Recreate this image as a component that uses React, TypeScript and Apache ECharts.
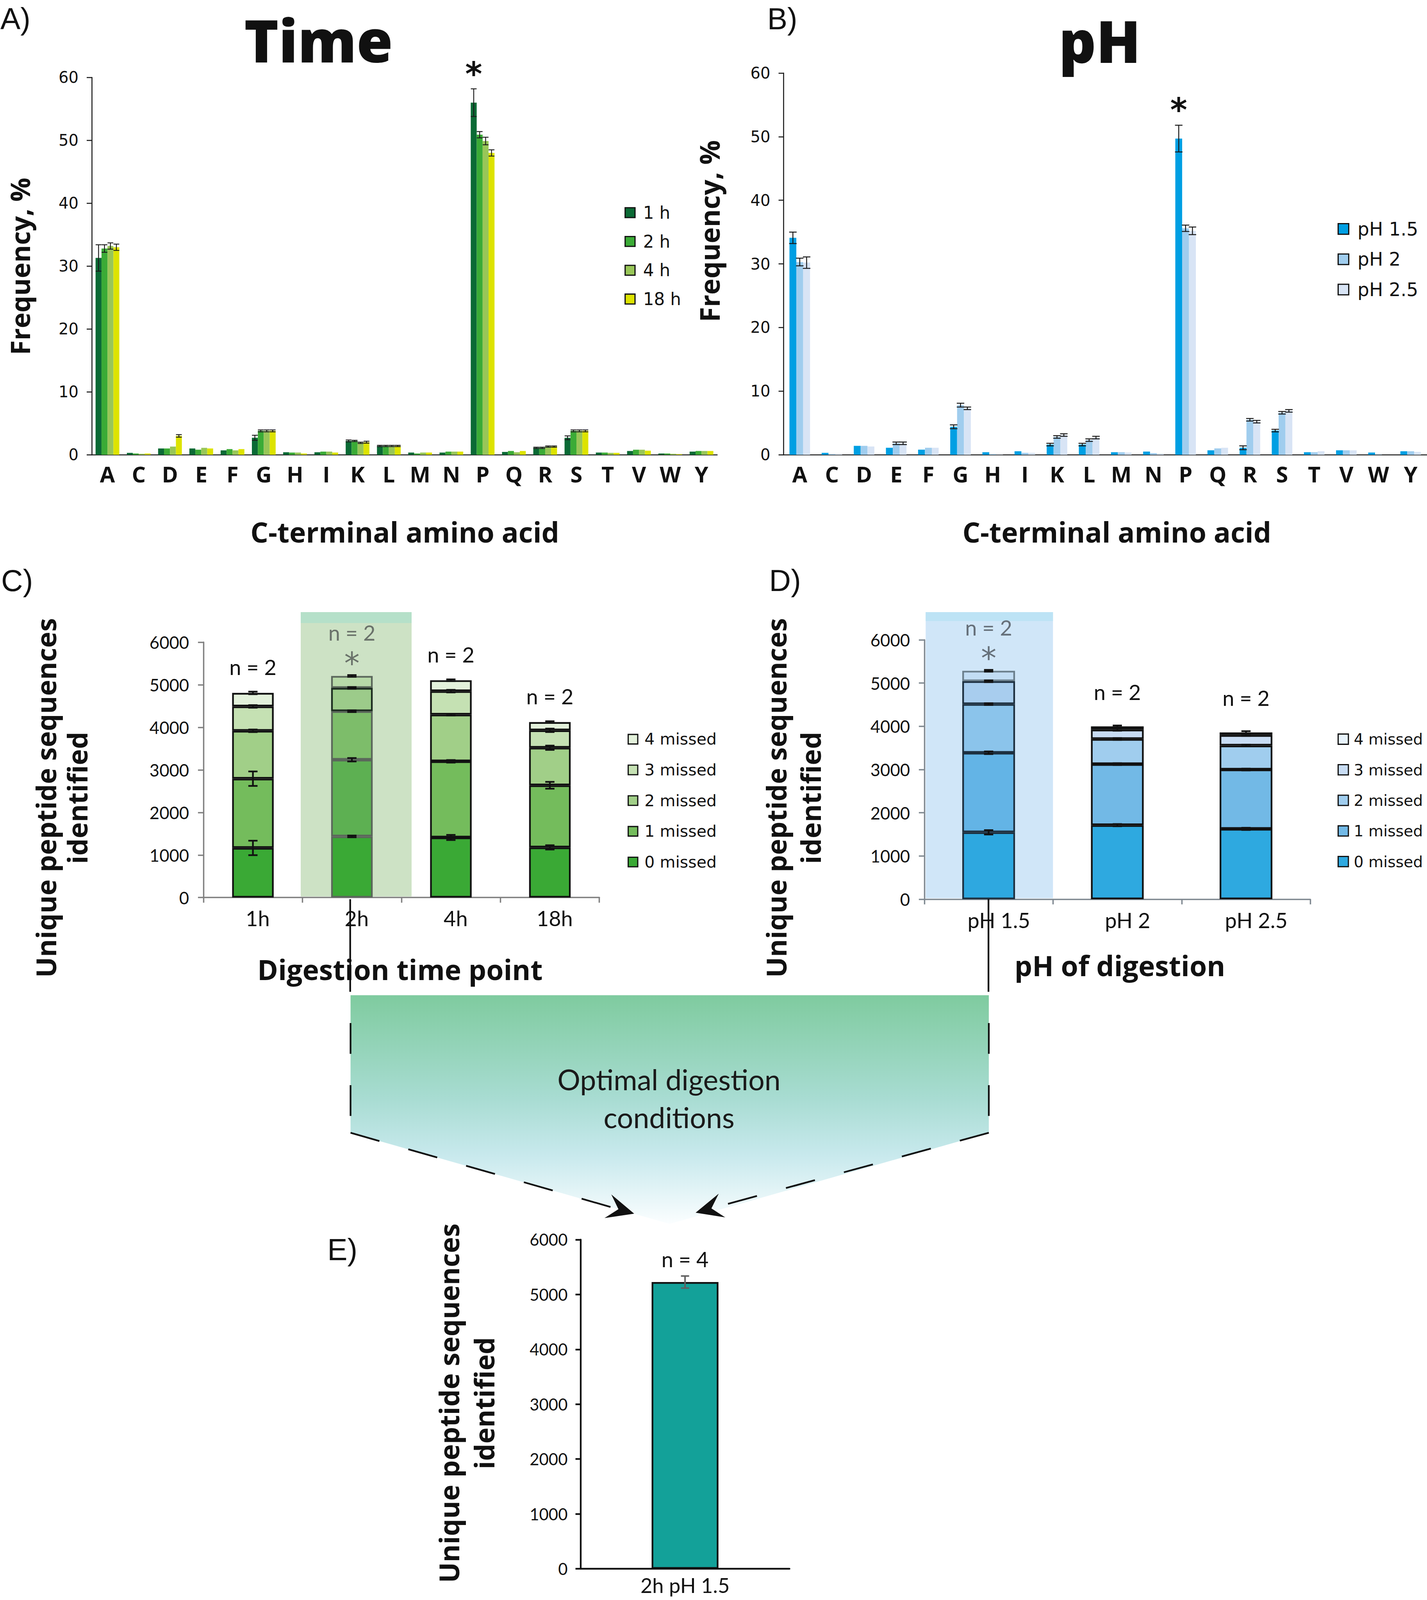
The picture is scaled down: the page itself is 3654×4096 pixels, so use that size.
import React, { useEffect, useRef } from "react";
import * as echarts from "echarts";

const W = 3654;
const H = 4096;
const S = 0.874;
const p = (v: number) => v * S;

// ---------------- DATA ----------------
const AMINO = ["A", "C", "D", "E", "F", "G", "H", "I", "K", "L", "M", "N", "P", "Q", "R", "S", "T", "V", "W", "Y"];
const STAR_AMINO = "P";

const TIME_SERIES = ["1 h", "2 h", "4 h", "18 h"];
const TIME_1H = [31.3, 0.3, 1.0, 1.0, 0.7, 2.7, 0.4, 0.4, 2.2, 1.4, 0.35, 0.35, 56.0, 0.45, 1.1, 2.7, 0.35, 0.6, 0.2, 0.5];
const TIME_2H = [32.8, 0.2, 1.0, 0.8, 0.9, 3.8, 0.35, 0.5, 2.2, 1.4, 0.2, 0.5, 50.9, 0.6, 1.1, 3.8, 0.35, 0.8, 0.2, 0.6];
const TIME_4H = [33.2, 0.15, 1.3, 1.1, 0.7, 3.8, 0.35, 0.5, 1.9, 1.4, 0.35, 0.5, 49.9, 0.4, 1.3, 3.8, 0.3, 0.8, 0.15, 0.6];
const TIME_18H = [33.0, 0.2, 3.0, 1.0, 0.9, 3.8, 0.2, 0.35, 2.0, 1.4, 0.35, 0.5, 48.0, 0.6, 1.3, 3.8, 0.3, 0.65, 0.1, 0.6];
const TIME_1H_ERR = [2.1, 0, 0, 0, 0, 0.4, 0, 0, 0.15, 0.1, 0, 0, 2.2, 0, 0.1, 0.3, 0, 0, 0, 0];
const TIME_2H_ERR = [0.6, 0, 0, 0, 0, 0.15, 0, 0, 0.1, 0.1, 0, 0, 0.5, 0, 0.1, 0.15, 0, 0, 0, 0];
const TIME_4H_ERR = [0.5, 0, 0, 0, 0, 0.15, 0, 0, 0.1, 0.1, 0, 0, 0.6, 0, 0.1, 0.15, 0, 0, 0, 0];
const TIME_18H_ERR = [0.5, 0, 0.2, 0, 0, 0.15, 0, 0, 0.15, 0.1, 0, 0, 0.5, 0, 0.1, 0.15, 0, 0, 0, 0];

const PH_SERIES = ["pH 1.5", "pH 2", "pH 2.5"];
const PH_15 = [34.1, 0.3, 1.4, 1.1, 0.8, 4.4, 0.4, 0.55, 1.6, 1.6, 0.4, 0.5, 49.7, 0.7, 1.1, 3.8, 0.4, 0.7, 0.35, 0.55];
const PH_2 = [30.3, 0.1, 1.4, 1.8, 1.1, 7.8, 0.1, 0.3, 2.8, 2.3, 0.4, 0.25, 35.6, 1.0, 5.5, 6.6, 0.4, 0.7, 0.05, 0.55];
const PH_25 = [30.2, 0.1, 1.3, 1.8, 1.1, 7.3, 0.05, 0.3, 3.1, 2.7, 0.35, 0.2, 35.2, 1.1, 5.2, 6.9, 0.55, 0.7, 0, 0.45];
const PH_15_ERR = [0.9, 0, 0, 0, 0, 0.3, 0, 0, 0.2, 0.2, 0, 0, 2.1, 0, 0.3, 0.2, 0, 0, 0, 0];
const PH_2_ERR = [0.6, 0, 0, 0.2, 0, 0.3, 0, 0, 0.2, 0.2, 0, 0, 0.5, 0, 0.2, 0.2, 0, 0, 0, 0];
const PH_25_ERR = [0.9, 0, 0, 0.2, 0, 0.2, 0, 0, 0.2, 0.2, 0, 0, 0.6, 0, 0.2, 0.2, 0, 0, 0, 0];

const MISSED = ["0 missed", "1 missed", "2 missed", "3 missed", "4 missed"];

const TIMEPOINTS = ["1h", "2h", "4h", "18h"];
const C_MISSED0 = [1166, 1437, 1412, 1179];
const C_MISSED1 = [1627, 1801, 1789, 1459];
const C_MISSED2 = [1125, 1140, 1097, 882];
const C_MISSED3 = [573, 548, 552, 409];
const C_MISSED4 = [317, 281, 256, 193];
const C_ERR0 = [170, 20, 60, 50];
const C_ERR1 = [170, 40, 30, 80];
const C_ERR2 = [30, 20, 20, 50];
const C_ERR3 = [30, 20, 30, 40];
const C_ERR4 = [30, 20, 20, 20];
const C_N = ["n = 2", "n = 2", "n = 2", "n = 2"];
const C_STAR = 1;

const PH_POINTS = ["pH 1.5", "pH 2", "pH 2.5"];
const D_MISSED0 = [1548, 1714, 1628];
const D_MISSED1 = [1840, 1412, 1372];
const D_MISSED2 = [1125, 580, 555];
const D_MISSED3 = [529, 217, 242];
const D_MISSED4 = [242, 75, 60];
const D_ERR0 = [50, 25, 25];
const D_ERR1 = [30, 20, 20];
const D_ERR2 = [20, 20, 20];
const D_ERR3 = [20, 25, 20];
const D_ERR4 = [20, 20, 30];
const D_N = ["n = 2", "n = 2", "n = 2"];
const D_STAR = 0;

const E_CATEGORY = ["2h pH 1.5"];
const E_VALUE = [5227];
const E_ERR = [110];
const E_N = ["n = 4"];

const Y_TICKS_FREQ = { min: 0, max: 60, interval: 10 };
const Y_TICKS_PEP = { min: 0, max: 6000, interval: 1000 };

// ---------------- STYLE ----------------
const TIME_COLORS = ["#0b6a35", "#3bab36", "#98c658", "#dde300"];
const PH_COLORS = ["#009fe3", "#a0cdee", "#d8e4f5"];
const C_COLORS = ["#3aa935", "#74bc5c", "#a1cf88", "#c5e1b3", "#e3f1db"];
const C_HL_COLORS = ["#3aa935", "#5db052", "#7dbd6a", "#9ccb8a", "#b7d9a8"];
const C_HL_BORDERS = ["#5b675b", "#5b675b", "#5b675b", "#1c2c20", "#5b675b"];
const D_COLORS = ["#2ea9e0", "#72b9e6", "#a0cdee", "#c8dcf3", "#e8f3fc"];
const D_HL_COLORS = ["#2ea8e0", "#63b4e6", "#8bc4eb", "#a8cdee", "#c2ddf4"];
const D_HL_BORDERS = ["#1d3040", "#1d3040", "#1d3040", "#1d3040", "#6b7f8c"];
const INK = "#111111";
const AXIS_GREY = "#808080";

const plain = (v: number) => String(v);

const makeErr = (n: number, groupFrac: number, cap: number, color: string, lw: number) =>
  (params: any, api: any) => {
    const ci = api.value(0);
    const v = api.value(1);
    const e = api.value(2);
    const slot = api.value(3);
    if (!e) return null;
    const band = api.size([1, 0])[0];
    const gw = band * groupFrac;
    const bw = gw / n;
    const cx = n === 1 ? api.coord([ci, v])[0] : api.coord([ci, v])[0] - gw / 2 + bw * (slot + 0.5);
    const yt = api.coord([ci, v + e])[1];
    const yb = api.coord([ci, v - e])[1];
    const st = { stroke: color, lineWidth: lw };
    return {
      type: "group",
      children: [
        { type: "line", shape: { x1: cx, y1: yt, x2: cx, y2: yb }, style: st },
        { type: "line", shape: { x1: cx - cap / 2, y1: yt, x2: cx + cap / 2, y2: yt }, style: st },
        { type: "line", shape: { x1: cx - cap / 2, y1: yb, x2: cx + cap / 2, y2: yb }, style: st },
      ],
    };
  };

const txt = (x: number, y: number, text: string, size: number, o: any = {}) => ({
  type: "text",
  x: p(x),
  y: p(y),
  rotation: o.rot || 0,
  z: 50,
  style: {
    text,
    fontSize: p(size),
    fontFamily: o.family || "Open Sans",
    fontWeight: o.weight || "normal",
    fill: o.color || INK,
    align: "center",
    verticalAlign: "middle",
    lineHeight: o.lh ? p(o.lh) : undefined,
  },
});

function arrowHead(tx: number, ty: number, fx: number, fy: number) {
  const dx = tx - fx, dy = ty - fy;
  const L = Math.hypot(dx, dy);
  const ux = dx / L, uy = dy / L;
  const nx = -uy, ny = ux;
  const len = 80, hw = 36, notch = 48;
  const pts = [
    [tx, ty],
    [tx - len * ux + hw * nx, ty - len * uy + hw * ny],
    [tx - notch * ux, ty - notch * uy],
    [tx - len * ux - hw * nx, ty - len * uy - hw * ny],
  ];
  return { pts: pts.map((q) => [p(q[0]), p(q[1])]), base: [tx - notch * ux, ty - notch * uy] };
}

function buildOption() {
  const series: any[] = [];

  // ---- Panel A ----
  const timeData = [TIME_1H, TIME_2H, TIME_4H, TIME_18H];
  const timeErr = [TIME_1H_ERR, TIME_2H_ERR, TIME_4H_ERR, TIME_18H_ERR];
  const starLabel = {
    show: true, position: "top", distance: p(36), formatter: "*",
    fontSize: p(95), fontFamily: "DejaVu Sans", fontWeight: "bold", color: INK,
  };
  timeData.forEach((arr, si) =>
    series.push({
      type: "bar", name: TIME_SERIES[si], xAxisIndex: 0, yAxisIndex: 0,
      barGap: "0%", barCategoryGap: "24%", itemStyle: { color: TIME_COLORS[si] },
      data: arr.map((v, i) => (si === 0 && AMINO[i] === STAR_AMINO ? { value: v, label: starLabel } : v)),
    })
  );
  const errA: number[][] = [];
  timeData.forEach((arr, si) => arr.forEach((v, i) => { if (timeErr[si][i] > 0) errA.push([i, v, timeErr[si][i], si]); }));
  series.push({ type: "custom", xAxisIndex: 0, yAxisIndex: 0, z: 5, silent: true, encode: { x: 0, y: 1 },
    data: errA, renderItem: makeErr(4, 0.76, p(17), "#1a1a1a", p(2.6)) });

  // ---- Panel B ----
  const phData = [PH_15, PH_2, PH_25];
  const phErr = [PH_15_ERR, PH_2_ERR, PH_25_ERR];
  phData.forEach((arr, si) =>
    series.push({
      type: "bar", name: PH_SERIES[si], xAxisIndex: 1, yAxisIndex: 1,
      barGap: "0%", barCategoryGap: "36%", itemStyle: { color: PH_COLORS[si] },
      data: arr.map((v, i) => (si === 0 && AMINO[i] === STAR_AMINO ? { value: v, label: starLabel } : v)),
    })
  );
  const errB: number[][] = [];
  phData.forEach((arr, si) => arr.forEach((v, i) => { if (phErr[si][i] > 0) errB.push([i, v, phErr[si][i], si]); }));
  series.push({ type: "custom", xAxisIndex: 1, yAxisIndex: 1, z: 5, silent: true, encode: { x: 0, y: 1 },
    data: errB, renderItem: makeErr(3, 0.64, p(22), "#1a1a1a", p(2.8)) });

  // ---- Panels C & D (stacked) ----
  const nLabel = (t: string, d: number) => ({
    show: true, position: "top", distance: p(d), formatter: t, fontFamily: "Lato", fontSize: p(62), color: INK,
  });
  const hlLabel = (t: string, c: string) => ({
    show: true, position: "top", distance: p(2), formatter: `{n|${t}}\n{s|*}`,
    rich: {
      n: { fontFamily: "Lato", fontSize: p(62), lineHeight: p(110), color: c },
      s: { fontFamily: "DejaVu Sans", fontSize: p(90), lineHeight: p(70), color: c },
    },
  });

  const stacked = (
    segs: number[][], errs: number[][], cats: string[], star: number, nTexts: string[],
    colors: string[], hlColors: string[], hlBorders: string[], axis: number, stack: string,
    barWidth: string, hlText: string, nDist: number
  ) => {
    MISSED.forEach((name, k) =>
      series.push({
        type: "bar", name, stack, xAxisIndex: axis, yAxisIndex: axis, barWidth, z: 2,
        itemStyle: { color: colors[k], borderColor: INK, borderWidth: p(5) },
        data: segs[k].map((v, i) => {
          const item: any = { value: v };
          if (i === star) item.itemStyle = { color: hlColors[k], borderColor: hlBorders[k] };
          if (k === MISSED.length - 1) item.label = i === star ? hlLabel(nTexts[i], hlText) : nLabel(nTexts[i], nDist);
          return item;
        }),
      })
    );
    const ed: number[][] = [];
    cats.forEach((_, i) => {
      let cum = 0;
      segs.forEach((seg, k) => { cum += seg[i]; ed.push([i, cum, errs[k][i], 0]); });
    });
    series.push({ type: "custom", xAxisIndex: axis, yAxisIndex: axis, z: 5, silent: true, encode: { x: 0, y: 1 },
      data: ed, renderItem: makeErr(1, 1, p(27), "#111", p(5)) });
  };

  stacked([C_MISSED0, C_MISSED1, C_MISSED2, C_MISSED3, C_MISSED4], [C_ERR0, C_ERR1, C_ERR2, C_ERR3, C_ERR4],
    TIMEPOINTS, C_STAR, C_N, C_COLORS, C_HL_COLORS, C_HL_BORDERS, 2, "C", "42%", "#6a726a", 45);
  stacked([D_MISSED0, D_MISSED1, D_MISSED2, D_MISSED3, D_MISSED4], [D_ERR0, D_ERR1, D_ERR2, D_ERR3, D_ERR4],
    PH_POINTS, D_STAR, D_N, D_COLORS, D_HL_COLORS, D_HL_BORDERS, 3, "D", "41%", "#66707a", 70);

  // highlight columns
  series.push({
    type: "custom", xAxisIndex: 2, yAxisIndex: 2, z: 1, silent: true, encode: { x: 0, y: 1 }, data: [[C_STAR, 0]],
    renderItem: (params: any, api: any) => {
      const band = api.size([1, 0])[0];
      const base = api.coord([api.value(0), 0]);
      const x0 = base[0] - band * 0.517, x1 = base[0] + band * 0.603;
      const yTop = base[1] - p(836), yBot = base[1] - p(3);
      return { type: "group", children: [
        { type: "rect", shape: { x: x0, y: yTop, width: x1 - x0, height: yBot - yTop }, style: { fill: "#cde2c5" } },
        { type: "rect", shape: { x: x0, y: yTop, width: x1 - x0, height: p(32) }, style: { fill: "#b5e0c9" } },
      ] };
    },
  });
  series.push({
    type: "custom", xAxisIndex: 3, yAxisIndex: 3, z: 1, silent: true, encode: { x: 0, y: 1 }, data: [[D_STAR, 0]],
    renderItem: (params: any, api: any) => {
      const band = api.size([1, 0])[0];
      const base = api.coord([api.value(0), 0]);
      const x0 = base[0] - band / 2 + p(4), x1 = base[0] + band / 2;
      const yTop = base[1] - p(841), yBot = base[1] - p(3);
      return { type: "group", children: [
        { type: "rect", shape: { x: x0, y: yTop, width: x1 - x0, height: yBot - yTop }, style: { fill: "#d0e6f8" } },
        { type: "rect", shape: { x: x0, y: yTop, width: x1 - x0, height: p(26) }, style: { fill: "#bde3f5" } },
      ] };
    },
  });

  // ---- Panel E ----
  series.push({
    type: "bar", name: "E", xAxisIndex: 4, yAxisIndex: 4, barWidth: "32%",
    itemStyle: { color: "#13a199", borderColor: INK, borderWidth: p(5) },
    data: E_VALUE.map((v, i) => ({ value: v, label: nLabel(E_N[i], 36) })),
  });
  series.push({ type: "custom", xAxisIndex: 4, yAxisIndex: 4, z: 5, silent: true, encode: { x: 0, y: 1 },
    data: E_VALUE.map((v, i) => [i, v, E_ERR[i], 0]), renderItem: makeErr(1, 1, p(24), "#606060", p(4.5)) });

  // ---- Axes ----
  const freqX = (gi: number) => ({
    gridIndex: gi, type: "category", data: AMINO,
    axisLine: { lineStyle: { color: "#1a1a1a", width: p(3) } }, axisTick: { show: false },
    axisLabel: { interval: 0, fontFamily: "Open Sans", fontWeight: "bold", fontSize: p(64), color: INK, margin: p(24) },
  });
  const freqY = (gi: number) => ({
    gridIndex: gi, type: "value", ...Y_TICKS_FREQ,
    axisLine: { show: true, lineStyle: { color: "#1a1a1a", width: p(3) } },
    axisTick: { show: true, length: p(15), lineStyle: { color: "#1a1a1a", width: p(3) } },
    splitLine: { show: false },
    axisLabel: { fontFamily: "DejaVu Sans", fontSize: p(46), color: INK, margin: p(39), formatter: plain },
  });
  const pepX = (gi: number, data: string[], color: string, padL: number) => ({
    gridIndex: gi, type: "category", data,
    axisLine: { lineStyle: { color, width: p(4) } },
    axisTick: { show: true, length: p(15), lineStyle: { color, width: p(4) } },
    axisLabel: { interval: 0, fontFamily: "Lato", fontSize: p(62), color: INK, margin: p(30), padding: [0, 0, 0, p(padL)] },
  });
  const pepY = (gi: number, color: string, margin: number) => ({
    gridIndex: gi, type: "value", ...Y_TICKS_PEP,
    axisLine: { show: true, lineStyle: { color, width: p(4) } },
    axisTick: { show: true, length: p(16), lineStyle: { color, width: p(4) } },
    splitLine: { show: false },
    axisLabel: { fontFamily: "Lato", fontSize: p(50), color: INK, margin: p(margin), formatter: plain },
  });

  const xAxis = [
    freqX(0), freqX(1),
    pepX(2, TIMEPOINTS, AXIS_GREY, 28),
    pepX(3, PH_POINTS, "#7f8890", 60),
    { ...pepX(4, E_CATEGORY, INK, 0), axisTick: { show: false }, axisLine: { lineStyle: { color: INK, width: p(5) } },
      axisLabel: { interval: 0, fontFamily: "Lato", fontSize: p(60), color: INK, margin: p(18) } },
  ];
  const yAxis = [
    freqY(0), freqY(1),
    pepY(2, AXIS_GREY, 42), pepY(3, "#7f8890", 42),
    { ...pepY(4, INK, 38), axisLine: { show: true, lineStyle: { color: INK, width: p(5) } },
      axisTick: { show: true, length: p(15), lineStyle: { color: INK, width: p(5) } },
      axisLabel: { fontFamily: "Lato", fontSize: p(48), color: INK, margin: p(38), formatter: plain } },
  ];

  // ---- Legends ----
  const legBase = (left: number, top: number, size: number, font: number, gap: number, pad: number) => ({
    orient: "vertical", left: p(left), top: p(top), itemWidth: p(size), itemHeight: p(size), itemGap: p(gap),
    icon: "rect", selectedMode: false,
    itemStyle: { borderColor: INK, borderWidth: p(3.5) },
    textStyle: { fontFamily: "DejaVu Sans", fontSize: p(font), color: INK, padding: [0, 0, 0, p(pad)] },
  });
  const revIdx = MISSED.map((_, i) => MISSED.length - 1 - i);
  const legend = [
    { ...legBase(1824, 592, 29, 50, 34, 18), data: TIME_SERIES },
    { ...legBase(3913, 638, 31, 54, 35, 20), data: PH_SERIES },
    { ...legBase(1833, 2136, 28, 47, 43, 14), data: revIdx.map((k) => ({ name: MISSED[k], itemStyle: { color: C_COLORS[k] } })) },
    { ...legBase(3913, 2137, 30, 45, 45, 10), data: revIdx.map((k) => ({ name: MISSED[k], itemStyle: { color: D_COLORS[k] } })) },
  ];

  // ---- Decorations ----
  const la = arrowHead(1858, 3555, 1027, 3318);
  const ra = arrowHead(2038, 3552, 2897, 3318);
  const dash = { stroke: INK, lineWidth: p(5), lineDash: [p(90), p(92)] };
  const graphic: any[] = [
    {
      type: "polygon", z: -10, silent: true,
      shape: { points: [[1027, 2915], [2897, 2915], [2897, 3318], [1962, 3585], [1027, 3318]].map((q) => [p(q[0]), p(q[1])]) },
      style: {
        fill: new echarts.graphic.LinearGradient(0, 0, 0, 1, [
          { offset: 0, color: "#7fcb9f" },
          { offset: 0.45, color: "#a8dcd2" },
          { offset: 0.7, color: "#c8e9ed" },
          { offset: 1, color: "#fbfeff" },
        ]),
      },
    },
    { type: "line", z: 20, shape: { x1: p(1026), y1: p(2634), x2: p(1026), y2: p(2905) }, style: { stroke: INK, lineWidth: p(5) } },
    { type: "line", z: 20, shape: { x1: p(2896), y1: p(2634), x2: p(2896), y2: p(2905) }, style: { stroke: INK, lineWidth: p(5) } },
    { type: "line", z: 20, shape: { x1: p(1027), y1: p(2905), x2: p(1027), y2: p(3318) }, style: { ...dash, lineDashOffset: p(90) } },
    { type: "line", z: 20, shape: { x1: p(2897), y1: p(2905), x2: p(2897), y2: p(3318) }, style: { ...dash, lineDashOffset: p(90) } },
    { type: "line", z: 20, shape: { x1: p(1027), y1: p(3318), x2: p(la.base[0]), y2: p(la.base[1]) }, style: { ...dash, lineDash: [p(88), p(88)] } },
    { type: "line", z: 20, shape: { x1: p(2897), y1: p(3318), x2: p(ra.base[0]), y2: p(ra.base[1]) }, style: { ...dash, lineDash: [p(88), p(88)] } },
    { type: "polygon", z: 20, shape: { points: la.pts }, style: { fill: INK } },
    { type: "polygon", z: 20, shape: { points: ra.pts }, style: { fill: INK } },
    txt(1960, 3217, "Optimal digestion\nconditions", 84, { family: "Lato", lh: 111, color: "#1a1a1a" }),

    // panel titles
    txt(933, 116, "Time", 172, { weight: 800 }),
    txt(3222, 118, "pH", 170, { weight: 800 }),
    // panel letters
    txt(45, 55, "A)", 88, { family: "Liberation Sans" }),
    txt(2292, 55, "B)", 88, { family: "Liberation Sans" }),
    txt(50, 1700, "C)", 88, { family: "Liberation Sans" }),
    txt(2300, 1700, "D)", 88, { family: "Liberation Sans" }),
    txt(1003, 3660, "E)", 88, { family: "Liberation Sans" }),
    // axis titles
    txt(58, 780, "Frequency, %", 78, { weight: "bold", rot: Math.PI / 2, lh: 72 }),
    txt(2077, 677, "Frequency, %", 80, { weight: "bold", rot: Math.PI / 2 }),
    txt(1186, 1557, "C-terminal amino acid", 82, { weight: "bold" }),
    txt(3272, 1557, "C-terminal amino acid", 82, { weight: "bold" }),
    txt(179, 2337, "Unique peptide sequences\nidentified", 80, { weight: "bold", rot: Math.PI / 2, lh: 92 }),
    txt(2323, 2337, "Unique peptide sequences\nidentified", 80, { weight: "bold", rot: Math.PI / 2, lh: 100 }),
    txt(1366, 4110, "Unique peptide sequences\nidentified", 80, { weight: "bold", rot: Math.PI / 2, lh: 103 }),
    txt(1172, 2839, "Digestion time point", 82, { weight: "bold" }),
    txt(3281, 2827, "pH of digestion", 82, { weight: "bold" }),
  ];

  return {
    animation: false,
    backgroundColor: "#ffffff",
    textStyle: { fontFamily: "Open Sans" },
    grid: [
      { left: p(269), top: p(227), width: p(1832), height: p(1105) },
      { left: p(2296), top: p(214), width: p(1884), height: p(1118) },
      { left: p(596), top: p(1881), width: p(1160), height: p(748) },
      { left: p(2708), top: p(1874), width: p(1131), height: p(760) },
      { left: p(1701), top: p(3631), width: p(612), height: p(964) },
    ],
    xAxis,
    yAxis,
    legend,
    series,
    graphic,
  };
}

const App = () => {
  const ref = useRef<HTMLDivElement>(null);
  useEffect(() => {
    document.body.style.margin = "0";
    const chart = echarts.init(ref.current!, null, { renderer: "svg" });
    chart.setOption(buildOption() as any);
    return () => chart.dispose();
  }, []);
  return <div ref={ref} style={{ width: W, height: H, position: "absolute", left: 0, top: 0, background: "#fff" }} />;
};

export default App;
